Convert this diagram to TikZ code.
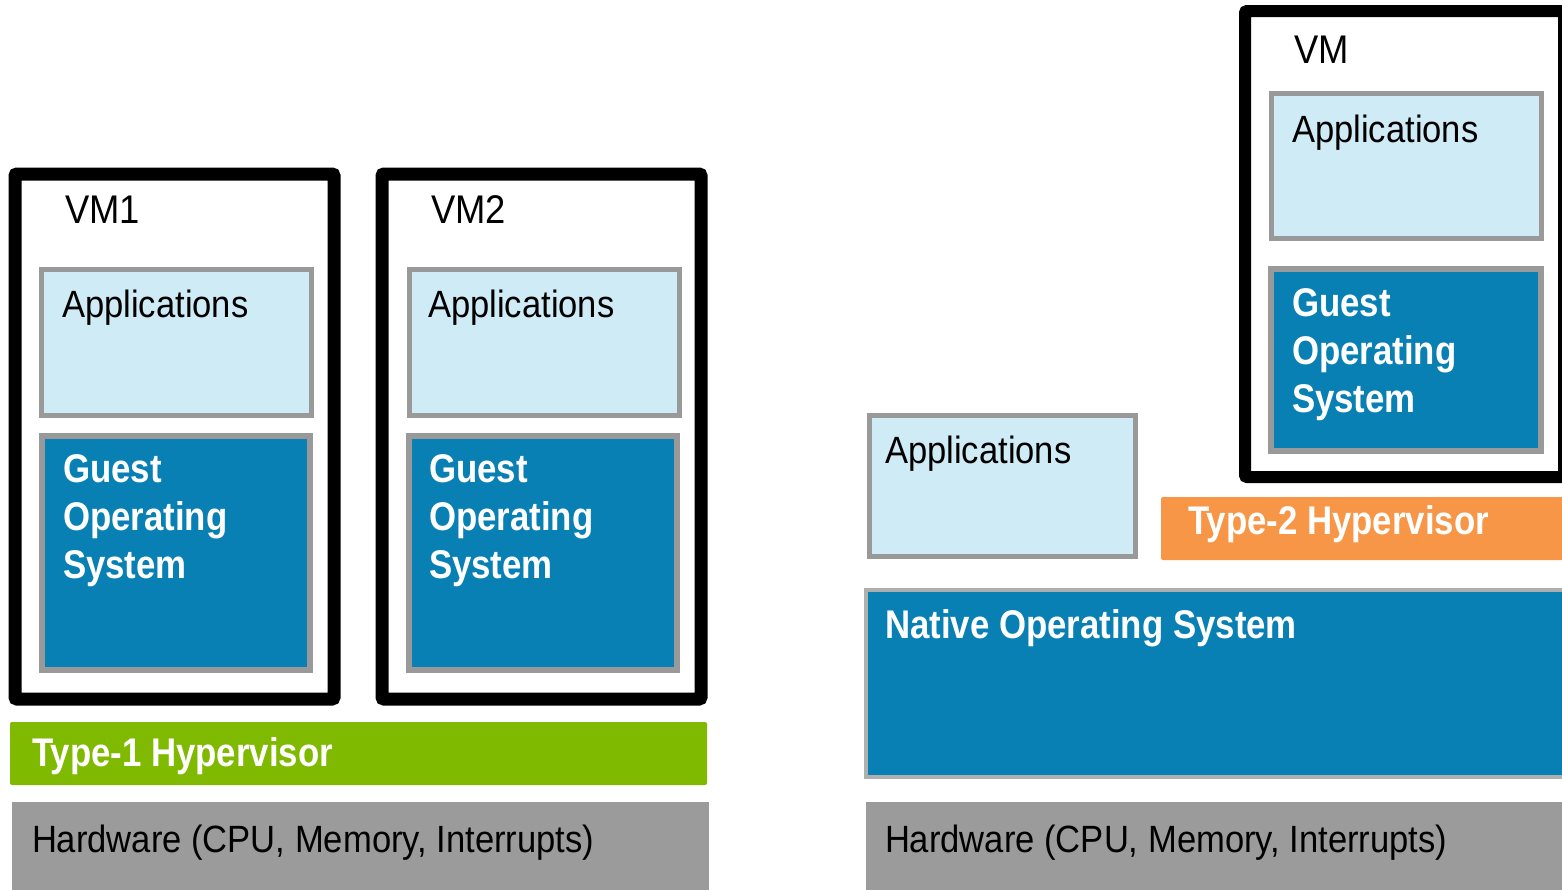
\documentclass[tikz,border=0pt]{standalone}
\usepackage{fontspec}
\newfontfamily\regfont[FakeStretch=0.91]{Liberation Sans}
\newfontfamily\boldfont[FakeStretch=0.87]{Liberation Sans Bold}
\definecolor{lightblue}{RGB}{207,235,246}
\definecolor{osblue}{RGB}{8,128,180}
\definecolor{boxgray}{RGB}{153,153,153}
\definecolor{hwgray}{RGB}{155,155,155}
\definecolor{nativegray}{RGB}{175,175,175}
\definecolor{hvgreen}{RGB}{127,186,0}
\definecolor{hvorange}{RGB}{247,150,70}
\begin{document}
\begin{tikzpicture}[x=1pt,y=-1pt,
  every node/.style={outer sep=0pt},
  vmbox/.style={draw=black, line width=13pt, fill=white, rounded corners=2pt, inner sep=0pt, anchor=north west},
  appbox/.style={draw=boxgray, line width=5pt, fill=lightblue, inner sep=0pt, anchor=north west, minimum width=270pt, minimum height=146pt},
  osbox/.style={draw=boxgray, line width=6pt, fill=osblue, inner sep=0pt, anchor=north west},
  barbox/.style={inner sep=0pt, anchor=north west, draw=none},
  lbl/.style={inner sep=0pt, anchor=base west, text=black, font=\regfont\fontsize{38}{46}\selectfont},
  vmlbl/.style={inner sep=0pt, anchor=base west, text=black, font=\regfont\fontsize{40}{48}\selectfont},
  blbl/.style={inner sep=0pt, anchor=base west, text=white, font=\boldfont\fontsize{40}{48}\selectfont},
  glbl/.style={inner sep=0pt, anchor=north west, align=left, text=white, font=\boldfont\fontsize{40}{48}\selectfont}
]
\useasboundingbox (0,0) rectangle (1562,889);
\fill[white] (0,0) rectangle (1562,889);

% ---------- Left: Type-1 ----------
\node[vmbox, minimum width=319pt, minimum height=525pt] (vm1) at (15,174) {};
\node[vmbox, minimum width=319pt, minimum height=525pt] (vm2) at (382,174) {};

\node[appbox] (app1) at (41,269) {};
\node[osbox, minimum width=268pt, minimum height=234pt] (os1) at (42,436) {};
\node[appbox] (app2) at (409,269) {};
\node[osbox, minimum width=268pt, minimum height=234pt] (os2) at (409,436) {};

\node[vmlbl] (vm1t) at (65,223) {VM1};
\node[vmlbl] (vm2t) at (431,223) {VM2};
\node[lbl] (app1t) at (62,317) {Applications};
\node[lbl] (app2t) at (428,317) {Applications};
\node[glbl] (os1t) at (63,455) {Guest\\Operating\\System};
\node[glbl] (os2t) at (429,455) {Guest\\Operating\\System};

\node[barbox, fill=hvgreen, rounded corners=2pt, minimum width=697pt, minimum height=63pt] (hv1) at (10,722) {};
\node[blbl] (hv1t) at (32,766) {Type-1 Hypervisor};

\node[barbox, fill=hwgray, minimum width=697pt, minimum height=92pt] (hw1) at (12,802) {};
\node[lbl] (hw1t) at (32,852) {Hardware (CPU, Memory, Interrupts)};

% ---------- Right: Type-2 ----------
\node[vmbox, line width=12pt, minimum width=319pt, minimum height=466pt] (vm) at (1245,11) {};
\node[vmlbl] (vmt) at (1294,63) {VM};
\node[appbox, minimum height=145pt] (app3) at (1271,93) {};
\node[lbl] (app3t) at (1292,142) {Applications};
\node[osbox, minimum width=270pt, minimum height=182pt] (os3) at (1271,269) {};
\node[glbl] (os3t) at (1292,289) {Guest\\Operating\\System};

\node[barbox, fill=hvorange, rounded corners=2pt, minimum width=405pt, minimum height=63pt] (hv2) at (1161,497) {};
\node[blbl] (hv2t) at (1188,534) {Type-2 Hypervisor};

\node[appbox, minimum width=266pt, minimum height=141pt] (app4) at (869,415) {};
\node[lbl] (app4t) at (885,463) {Applications};

\node[osbox, draw=nativegray, line width=4pt, minimum width=699pt, minimum height=187pt] (native) at (866,590) {};
\node[blbl] (nativet) at (885,638) {Native Operating System};

\node[barbox, fill=hwgray, minimum width=700pt, minimum height=92pt] (hw2) at (866,802) {};
\node[lbl] (hw2t) at (885,852) {Hardware (CPU, Memory, Interrupts)};
\end{tikzpicture}
\end{document}
